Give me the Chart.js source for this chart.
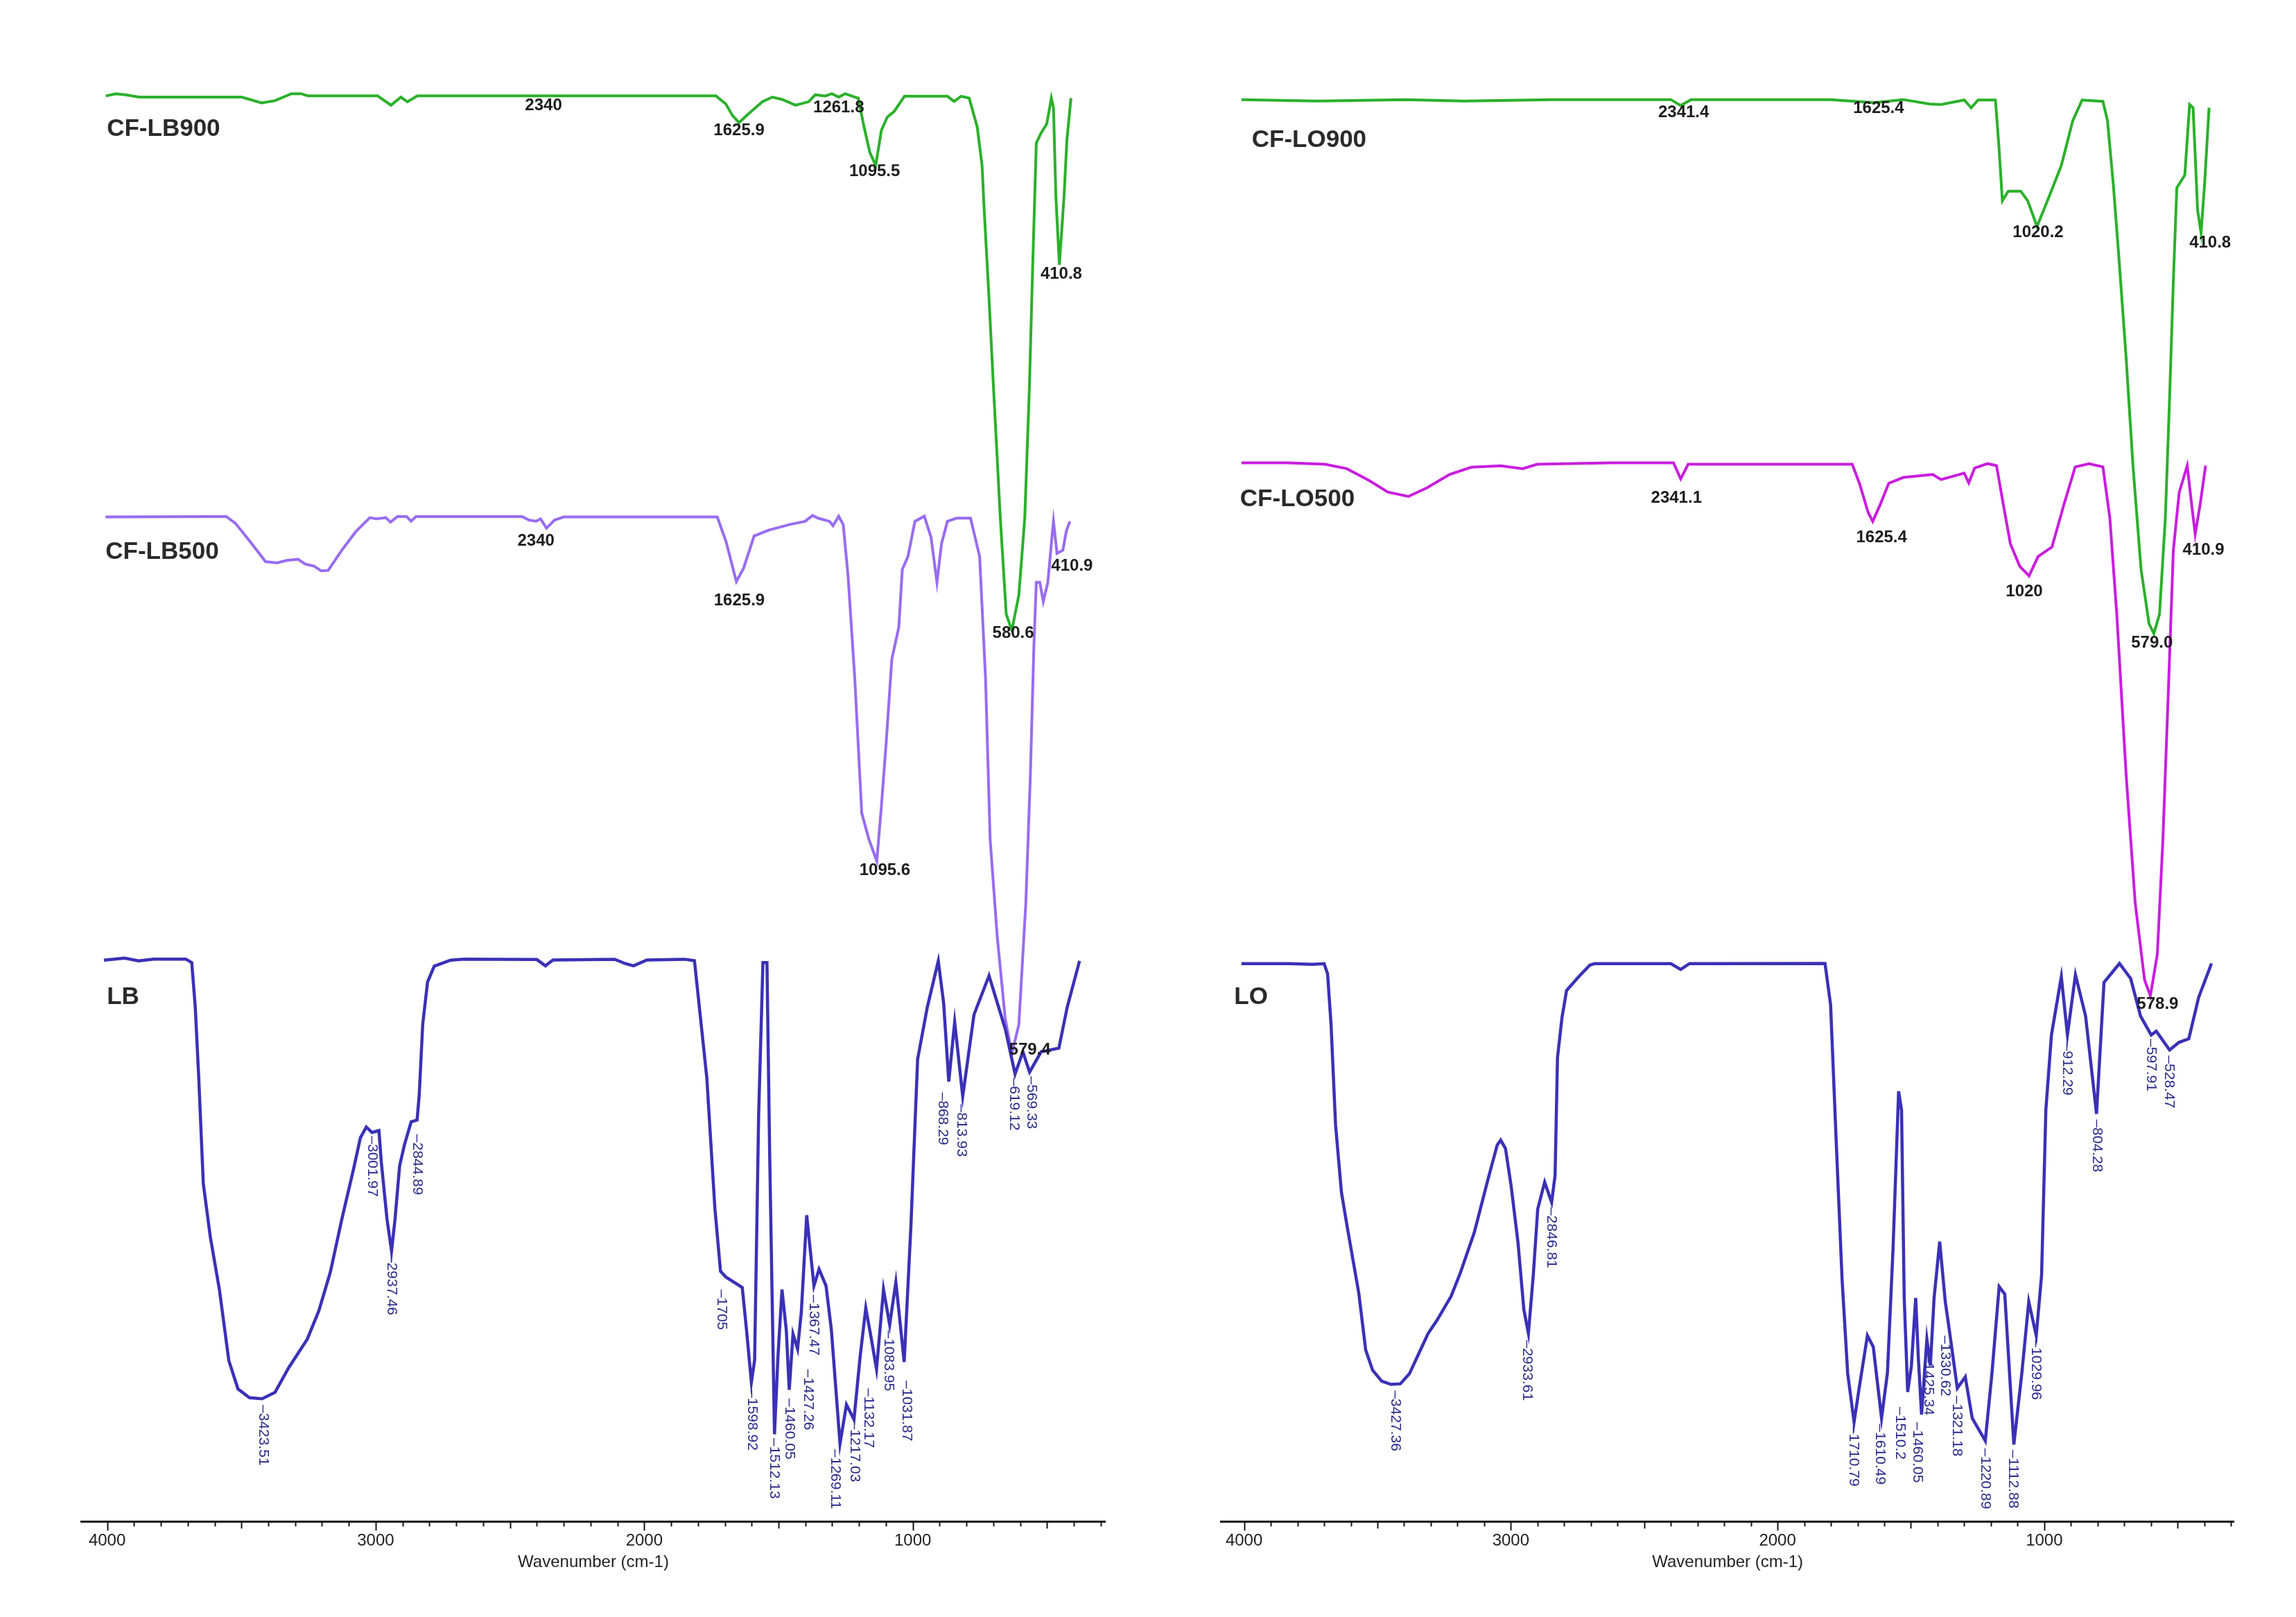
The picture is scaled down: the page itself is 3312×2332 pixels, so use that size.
<!DOCTYPE html>
<html>
<head>
<meta charset="utf-8">
<title>FTIR spectra</title>
<script src="https://cdn.jsdelivr.net/npm/chart.js@4.4.1/dist/chart.umd.min.js"></script>
<style>
  html, body { margin: 0; padding: 0; background: #fff; }
  #wrap { position: relative; width: 3312px; height: 2332px; }
  .panel { position: absolute; top: 0; width: 1656px; height: 2332px; }
</style>
</head>
<body>
<div id="wrap">
  <div class="panel" style="left:0"><canvas id="leftChart"></canvas></div>
  <div class="panel" style="left:1656px"><canvas id="rightChart"></canvas></div>
</div>
<script>
// ---- data (wavenumber in cm-1, transmittance in arbitrary stacked units) ----
const xTicks = [4000, 3000, 2000, 1000];

// left panel
const lbWn = [4012, 3935, 3883, 3827, 3707, 3685, 3672, 3659, 3642, 3616, 3582, 3547, 3513, 3470, 3423, 3375, 3324, 3255, 3212, 3169, 3126, 3083, 3057, 3035, 3014, 2988, 2979, 2958, 2941, 2928, 2911, 2893, 2868, 2846, 2838, 2825, 2807, 2782, 2721, 2670, 2550, 2400, 2368, 2340, 2110, 2070, 2040, 1990, 1850, 1813, 1767, 1737, 1716, 1696, 1635, 1619, 1601, 1589, 1574, 1558, 1543, 1533, 1515, 1502, 1487, 1471, 1460, 1446, 1429, 1415, 1395, 1368, 1349, 1323, 1303, 1271, 1247, 1219, 1196, 1175, 1155, 1135, 1109, 1086, 1063, 1032, 1007, 982, 946, 905, 885, 866, 844, 814, 772, 716, 655, 619, 590, 565, 522, 456, 425, 379];
const lbT = [38.34, 38.48, 38.29, 38.41, 38.41, 38.17, 35.15, 30.32, 23.07, 19.45, 15.83, 11.0, 9.06, 8.46, 8.39, 8.82, 10.51, 12.45, 14.38, 17.03, 20.66, 24.04, 26.21, 26.94, 26.57, 26.7, 24.52, 20.66, 18.48, 20.66, 24.28, 25.73, 27.3, 27.42, 29.11, 33.94, 36.84, 37.93, 38.34, 38.41, 38.4, 38.38, 37.95, 38.35, 38.4, 38.1, 37.95, 38.35, 38.4, 38.3, 30.3, 21.4, 17.1, 16.7, 15.98, 13.06, 9.51, 11.03, 27.77, 38.17, 38.17, 25.23, 5.96, 11.28, 15.85, 13.06, 9.0, 12.8, 11.79, 14.33, 20.92, 16.1, 17.24, 16.1, 13.06, 5.32, 7.99, 6.97, 11.28, 14.58, 12.55, 10.4, 15.85, 13.44, 16.36, 10.9, 20.16, 31.57, 35.12, 38.29, 35.4, 30.05, 34.11, 29.04, 34.62, 37.28, 33.6, 30.56, 32.08, 30.69, 32.08, 32.33, 35.12, 38.29];

const cfLb500Wn = [4006, 3625, 3556, 3522, 3470, 3410, 3367, 3332, 3289, 3263, 3229, 3203, 3177, 3126, 3074, 3022, 2997, 2962, 2945, 2919, 2885, 2868, 2850, 2455, 2429, 2403, 2386, 2364, 2334, 2300, 1728, 1695, 1657, 1630, 1591, 1537, 1455, 1401, 1373, 1353, 1310, 1297, 1276, 1259, 1241, 1216, 1190, 1164, 1134, 1117, 1099, 1078, 1052, 1039, 1018, 992, 957, 932, 910, 893, 871, 837, 785, 751, 729, 712, 686, 656, 631, 605, 579, 562, 549, 540, 527, 514, 497, 484, 476, 463, 441, 428, 415];
const cfLb500T = [68.6, 68.63, 68.63, 68.16, 66.97, 65.55, 65.47, 65.63, 65.71, 65.39, 65.24, 64.92, 64.95, 66.34, 67.6, 68.55, 68.47, 68.55, 68.24, 68.63, 68.63, 68.31, 68.63, 68.63, 68.39, 68.31, 68.47, 67.84, 68.39, 68.6, 68.6, 66.9, 64.2, 65.1, 67.3, 67.7, 68.1, 68.3, 68.7, 68.52, 68.3, 68.0, 68.65, 68.08, 64.58, 57.58, 48.38, 46.63, 45.1, 48.82, 53.2, 58.89, 61.08, 65.02, 65.9, 68.3, 68.65, 67.21, 64.14, 66.77, 68.3, 68.52, 68.52, 65.9, 57.58, 46.63, 40.06, 34.37, 31.96, 33.93, 42.25, 51.01, 59.77, 64.14, 64.14, 62.83, 64.14, 66.77, 68.3, 66.11, 66.33, 67.65, 68.3];

const cfLb900Wn = [4005, 3968, 3931, 3882, 3499, 3425, 3375, 3314, 3277, 3252, 2993, 2943, 2906, 2882, 2845, 1733, 1696, 1671, 1647, 1610, 1560, 1523, 1486, 1437, 1388, 1363, 1326, 1301, 1276, 1252, 1215, 1203, 1181, 1160, 1138, 1117, 1095, 1069, 1031, 871, 846, 820, 790, 760, 742, 734, 717, 699, 674, 652, 631, 605, 583, 566, 553, 540, 523, 501, 484, 476, 467, 454, 437, 426, 411];
const cfLb900T = [97.35, 97.5, 97.43, 97.27, 97.27, 96.87, 97.03, 97.5, 97.5, 97.35, 97.35, 96.72, 97.27, 96.95, 97.35, 97.35, 96.8, 96.0, 95.53, 96.16, 96.95, 97.27, 97.11, 96.72, 96.95, 97.43, 97.35, 97.5, 97.27, 97.5, 97.27, 97.2, 95.2, 93.5, 92.6, 95.0, 95.9, 96.3, 97.33, 97.33, 96.98, 97.33, 97.2, 95.23, 92.6, 89.54, 83.85, 77.28, 68.52, 61.96, 60.86, 63.27, 68.52, 77.28, 86.04, 94.13, 94.79, 95.45, 97.2, 96.54, 90.41, 85.82, 90.41, 94.35, 97.2];

// right panel
const loWn = [4010, 3830, 3744, 3700, 3687, 3674, 3657, 3635, 3614, 3592, 3570, 3544, 3518, 3484, 3449, 3414, 3380, 3345, 3310, 3276, 3224, 3189, 3137, 3085, 3051, 3038, 3020, 2999, 2973, 2951, 2934, 2916, 2899, 2873, 2860, 2847, 2834, 2825, 2808, 2791, 2747, 2704, 2686, 2400, 2363, 2330, 1822, 1801, 1779, 1758, 1737, 1713, 1694, 1663, 1641, 1610, 1588, 1567, 1546, 1535, 1525, 1512, 1498, 1482, 1472, 1460, 1440, 1427, 1413, 1392, 1371, 1355, 1326, 1296, 1270, 1221, 1196, 1169, 1148, 1114, 1084, 1058, 1030, 1010, 994, 973, 936, 913, 883, 845, 804, 776, 718, 676, 639, 599, 580, 530, 495, 458, 421, 373];
const loT = [38.1, 38.1, 38.05, 38.1, 37.41, 33.97, 27.08, 22.49, 20.2, 17.9, 15.61, 11.71, 10.33, 9.59, 9.37, 9.41, 10.1, 11.48, 12.85, 13.77, 15.38, 16.99, 19.74, 23.41, 25.71, 26.05, 25.48, 22.95, 19.05, 14.46, 12.85, 16.76, 21.35, 23.18, 22.49, 21.8, 23.64, 31.67, 34.43, 36.26, 37.18, 37.99, 38.1, 38.1, 37.7, 38.1, 38.11, 35.28, 25.53, 16.55, 10.13, 6.8, 9.11, 12.7, 11.93, 7.06, 10.14, 18.6, 29.38, 28.1, 15.27, 8.85, 10.65, 15.27, 11.16, 7.31, 12.45, 10.65, 15.27, 19.12, 15.01, 12.96, 9.11, 9.88, 7.06, 5.52, 10.14, 16.04, 15.53, 5.26, 10.14, 15.01, 12.7, 16.81, 28.1, 33.23, 37.21, 33.23, 37.34, 34.52, 27.84, 36.82, 38.11, 37.08, 34.52, 33.23, 33.49, 32.2, 32.72, 32.97, 35.8, 38.11];

const cfLo500Wn = [4010, 3834, 3697, 3615, 3532, 3461, 3384, 3313, 3230, 3148, 3038, 2956, 2901, 2627, 2390, 2363, 2335, 1720, 1693, 1660, 1643, 1616, 1583, 1528, 1418, 1387, 1300, 1283, 1261, 1213, 1179, 1153, 1127, 1092, 1057, 1023, 971, 927, 884, 832, 780, 754, 728, 693, 659, 624, 602, 576, 555, 533, 516, 494, 464, 447, 434, 416, 395];
const cfLo500T = [72.3, 72.3, 72.2, 71.9, 71.1, 70.3, 70.0, 70.6, 71.5, 72.0, 72.1, 71.9, 72.2, 72.3, 72.3, 71.2, 72.2, 72.2, 70.9, 68.9, 68.3, 69.4, 70.9, 71.3, 71.5, 71.15, 71.59, 70.93, 71.94, 72.24, 72.11, 69.4, 66.77, 65.24, 64.58, 65.9, 66.55, 69.4, 72.02, 72.24, 72.02, 68.52, 61.95, 51.01, 42.25, 37.0, 35.9, 38.75, 46.63, 57.58, 66.33, 70.27, 72.11, 69.4, 67.43, 69.4, 72.11];

const cfLo900Wn = [4010, 3724, 3395, 3175, 2846, 2400, 2363, 2324, 1802, 1638, 1528, 1430, 1387, 1300, 1274, 1248, 1183, 1170, 1157, 1135, 1088, 1062, 1027, 988, 936, 893, 858, 780, 763, 741, 719, 693, 667, 637, 607, 589, 568, 546, 529, 516, 503, 473, 455, 442, 425, 412, 399, 382];
const cfLo900T = [97.1, 97.0, 97.1, 97.0, 97.1, 97.1, 96.7, 97.1, 97.1, 96.9, 97.1, 96.8, 96.76, 97.07, 96.54, 97.07, 97.07, 93.92, 90.19, 90.85, 90.85, 90.19, 88.44, 90.19, 92.6, 95.67, 97.07, 96.98, 95.67, 91.29, 86.04, 79.47, 72.02, 65.02, 61.3, 60.64, 61.95, 68.52, 77.28, 84.72, 91.07, 91.95, 96.76, 96.54, 89.54, 88.0, 91.29, 96.54];

// spectrum names: [wavenumber of left edge, transmittance, text]
const leftNames = [[4001, 95.1, 'CF-LB900'], [4006, 66.2, 'CF-LB500'], [4001, 35.8, 'LB']];
const rightNames = [[3971, 94.3, 'CF-LO900'], [4015, 69.8, 'CF-LO500'], [4037, 35.8, 'LO']];

// horizontal peak labels: [wavenumber, transmittance, text]
const cfLbPeaks = [
  [2375, 96.7, '2340'], [1647, 94.98, '1625.9'], [1276, 96.56, '1261.8'], [1142, 92.17, '1095.5'],
  [626, 60.64, '580.6'], [447, 85.16, '410.8'],
  [2403, 66.97, '2340'], [1646, 62.9, '1625.9'], [1104, 44.44, '1095.6'], [564, 32.18, '579.4'], [407, 65.24, '410.9']
];
const cfLoPeaks = [
  [2352, 96.2, '2341.4'], [1621, 96.5, '1625.4'], [1023, 88.0, '1020.2'], [596, 60.0, '579.0'], [378, 87.3, '410.8'],
  [2379, 69.9, '2341.1'], [1610, 67.2, '1625.4'], [1075, 63.49, '1020'], [575, 35.3, '578.9'], [403, 66.33, '410.9']
];

// vertical peak labels under the raw spectra: [wavenumber, transmittance at label top, text]
const lbPeaks = [
  [3418, 7.97, '3423.51'], [3014, 26.33, '3001.97'], [2941, 18.24, '2937.46'], [2846, 26.45, '2844.89'],
  [1711, 15.85, '1705'], [1599, 9.0, '1598.92'], [1517, 5.7, '1512.13'], [1458, 8.4, '1460.05'],
  [1390, 10.4, '1427.26'], [1369, 15.5, '1367.47'], [1288, 4.94, '1269.11'], [1216, 6.85, '1217.03'],
  [1165, 9.1, '1132.17'], [1089, 13.06, '1083.95'], [1022, 9.64, '1031.87'], [890, 29.3, '868.29'],
  [818, 28.5, '813.93'], [624, 30.3, '619.12'], [558, 30.4, '569.33']
];
const loPeaks = [
  [3432, 8.95, '3427.36'], [2938, 12.4, '2933.61'], [2847, 21.46, '2846.81'], [1716, 6.55, '1710.79'],
  [1615, 6.67, '1610.49'], [1540, 7.83, '1510.2'], [1477, 6.8, '1460.05'], [1434, 11.4, '1425.34'],
  [1371, 12.7, '1330.62'], [1328, 8.6, '1321.18'], [1222, 5.0, '1220.89'], [1116, 4.9, '1112.88'],
  [1031, 12.45, '1029.96'], [914, 32.7, '912.29'], [803, 27.46, '804.28'], [601, 32.97, '597.91'],
  [532, 31.82, '528.47']
];

// ---- helpers ----
const FONT = '"Liberation Sans", Arial, sans-serif';
const toPoints = (wn, t) => wn.map((x, i) => ({ x: x, y: t[i] }));

const spectrum = (label, wn, t, color, width) => ({
  label: label,
  data: toPoints(wn, t),
  borderColor: color,
  borderWidth: width,
  pointRadius: 0,
  tension: 0,
  fill: false
});

// minor / major tick marks hanging below the axis line
const tickMarks = {
  id: 'tickMarks',
  afterDraw(chart) {
    const ctx = chart.ctx;
    const x = chart.scales.x;
    const y0 = chart.chartArea.bottom;
    ctx.save();
    ctx.strokeStyle = '#111';
    ctx.lineWidth = 2;
    for (let v = 300; v <= 4000; v += 100) {
      const px = Math.round(x.getPixelForValue(v)) + 0.5;
      const len = v % 1000 === 0 ? 13 : (v % 500 === 0 ? 10 : 7);
      ctx.beginPath();
      ctx.moveTo(px, y0);
      ctx.lineTo(px, y0 + len);
      ctx.stroke();
    }
    ctx.restore();
  }
};

// spectrum names and peak annotations
const peakLabels = {
  id: 'peakLabels',
  afterDatasetsDraw(chart, args, opts) {
    const ctx = chart.ctx;
    const x = chart.scales.x;
    const y = chart.scales.y;
    ctx.save();

    ctx.fillStyle = '#2a2a2a';
    ctx.font = 'bold 35px ' + FONT;
    ctx.textAlign = 'left';
    ctx.textBaseline = 'middle';
    opts.names.forEach(([wn, t, text]) => {
      ctx.fillText(text, x.getPixelForValue(wn), y.getPixelForValue(t));
    });

    ctx.fillStyle = '#1c1c1c';
    ctx.font = 'bold 24px ' + FONT;
    ctx.textAlign = 'center';
    opts.flat.forEach(([wn, t, text]) => {
      ctx.fillText(text, x.getPixelForValue(wn), y.getPixelForValue(t));
    });

    ctx.fillStyle = '#2a2a8c';
    ctx.font = '21px ' + FONT;
    ctx.textAlign = 'left';
    opts.vertical.forEach(([wn, t, text]) => {
      ctx.save();
      ctx.translate(x.getPixelForValue(wn), y.getPixelForValue(t));
      ctx.rotate(Math.PI / 2);
      ctx.fillText('\u2013' + text, 0, 0);
      ctx.restore();
    });
    ctx.restore();
  }
};

function makeChart(id, datasets, xRange, padding, labels) {
  return new Chart(document.getElementById(id), {
    type: 'line',
    data: { datasets: datasets },
    plugins: [tickMarks, peakLabels],
    options: {
      responsive: true,
      maintainAspectRatio: false,
      animation: false,
      layout: { padding: padding },
      plugins: {
        legend: { display: false },
        tooltip: { enabled: false },
        peakLabels: labels
      },
      scales: {
        x: {
          type: 'linear',
          reverse: true,
          min: xRange[0],
          max: xRange[1],
          afterBuildTicks: (scale) => { scale.ticks = xTicks.map(v => ({ value: v })); },
          afterFit: (scale) => { scale.height = 137.6; },
          grid: { display: false, drawTicks: false },
          border: { display: true, width: 3, color: '#111' },
          ticks: {
            padding: 14,
            color: '#222',
            maxRotation: 0,
            autoSkip: false,
            font: { family: FONT, size: 24 },
            callback: (v) => String(v)
          },
          title: {
            display: true,
            text: 'Wavenumber (cm-1)',
            color: '#222',
            font: { family: FONT, size: 24 },
            padding: { top: 0, bottom: 64.6 }
          }
        },
        y: { display: false, min: 0, max: 100 }
      }
    }
  });
}

// Left panel: LB series
makeChart('leftChart', [
  spectrum('LB', lbWn, lbT, '#3a31b6', 4.5),
  spectrum('CF-LB500', cfLb500Wn, cfLb500T, '#986cf0', 4),
  spectrum('CF-LB900', cfLb900Wn, cfLb900T, '#2bb02b', 4)
], [283.6, 4095], { left: 117.8, right: 61.8, top: 82.4, bottom: 0 },
  { names: leftNames, flat: cfLbPeaks, vertical: lbPeaks });

// Right panel: LO series
makeChart('rightChart', [
  spectrum('LO', loWn, loT, '#3a31b6', 4.5),
  spectrum('CF-LO500', cfLo500Wn, cfLo500T, '#c81ede', 4),
  spectrum('CF-LO900', cfLo900Wn, cfLo900T, '#2bb02b', 4)
], [289, 4085], { left: 105.9, right: 89.6, top: 82.4, bottom: 0 },
  { names: rightNames, flat: cfLoPeaks, vertical: loPeaks });
</script>
</body>
</html>
